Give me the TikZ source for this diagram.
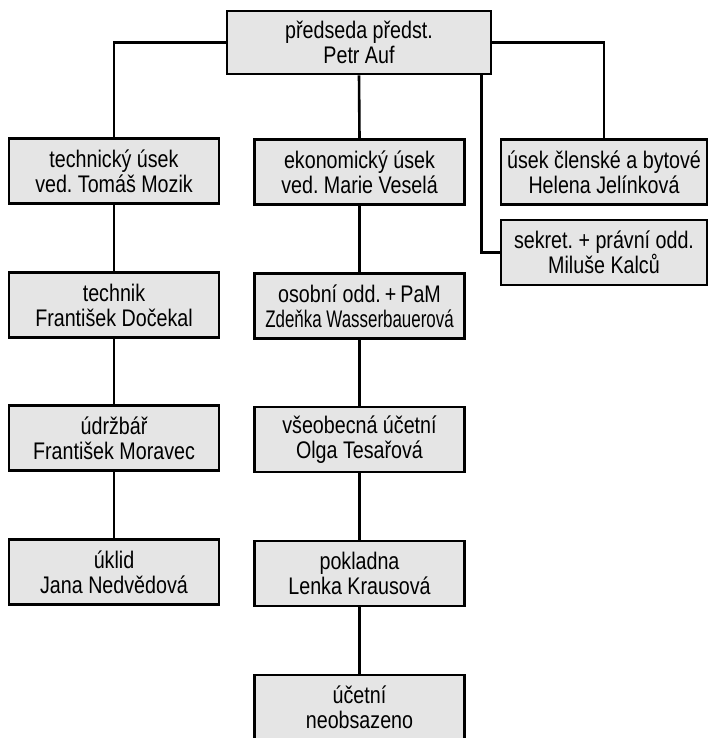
\documentclass[tikz,border=0pt]{standalone}
\usepackage{fontspec}
\setmainfont{Liberation Sans}[FakeStretch=0.82]
\usepackage{tikz}
\usetikzlibrary{calc}
\frenchspacing

\begin{document}
\begin{tikzpicture}[x=1pt,y=-1pt,
  unit/.style={draw=black,line width=2.6pt,fill=gray!20,minimum width=210pt,minimum height=65pt,
    inner sep=0pt,align=center,font=\fontsize{24}{25}\selectfont},
  link/.style={line width=2.6pt}]
\useasboundingbox (0,0) rectangle (708,738);
\node [unit,minimum width=264pt,minimum height=63pt] (chair) at (359,42.5) {předseda předst.\\Petr Auf};
\node [unit] (tech) at (114,171) {technický úsek\\ved. Tomáš Mozik};
\node [unit] (econ) at (359.5,172) {ekonomický úsek\\ved. Marie Veselá};
\node [unit,minimum width=206pt] (member) at (604,172) {úsek členské a bytové\\Helena Jelínková};
\node [unit,minimum width=206pt] (secr) at (604,252.5) {sekret. + právní odd.\\Miluše Kalců};
\node [unit] (technik) at (114,305) {technik\\František Dočekal};
\node [unit] (upkeep) at (114,438) {údržbář\\František Moravec};
\node [unit] (clean) at (114,572) {úklid\\Jana Nedvědová};
\node [unit] (staff) at (359.5,306) {osobní odd.\,+\,PaM\\\scalebox{0.86}[1]{Zdeňka Wasserbauerová}};
\node [unit] (acct) at (359.5,439.5) {všeobecná účetní\\Olga Tesařová};
\node [unit] (cash) at (359.5,573.5) {pokladna\\Lenka Krausová};
\node [unit] (vacant) at (359.5,707.5) {účetní\\neobsazeno};
\draw [link] (chair.west) -| (tech.north);
\draw [link] (chair.south) -- (econ.north);
\draw [link] (chair.east) -| (member.north);
\draw [link] ([xshift=-11pt]chair.south east) |- (secr.west);
\draw [link] (tech) -- (technik);
\draw [link] (technik) -- (upkeep);
\draw [link] (upkeep) -- (clean);
\draw [link] (econ) -- (staff);
\draw [link] (staff) -- (acct);
\draw [link] (acct) -- (cash);
\draw [link] (cash) -- (vacant);
\end{tikzpicture}
\end{document}
